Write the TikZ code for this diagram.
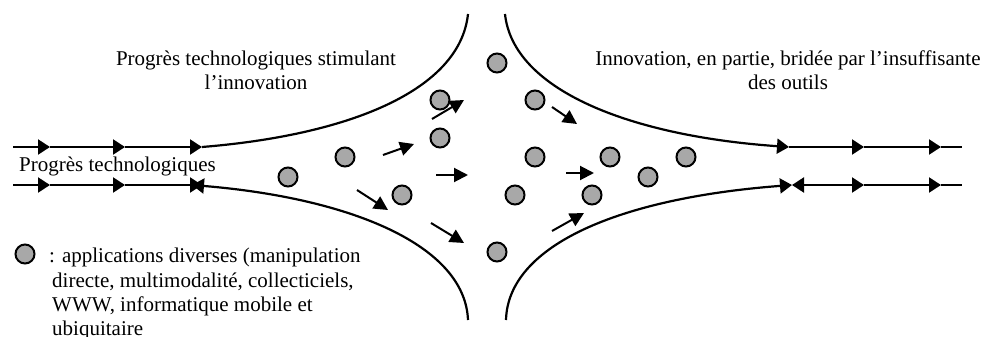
\documentclass[tikz,border=0pt]{standalone}
\usepackage{fontspec}
\setmainfont{Liberation Serif}
\usetikzlibrary{arrows.meta}

\begin{document}
\begin{tikzpicture}[x=1pt,y=-1pt,
    app/.style ={circle, draw, line width=2pt, fill=gray!68, minimum size=19pt, inner sep=0pt},
    flow/.style ={line width=2pt, -{Triangle[length=14pt,width=14pt]}},
    bord/.style ={line width=2.2pt},
    wtip/.tip ={Triangle[length=12pt,width=15pt]},
    label/.style ={font=\fontsize{21}{24.3}\selectfont, align=center, inner sep=0pt}]
   \useasboundingbox (0,0) rectangle (983,337);
   \clip (0,0) rectangle (983,337);

   % texts
   \node[label] (T1) at (256,70) {Progrès technologiques stimulant\\l’innovation};
   \node[label] (T2) at (788,70) {Innovation, en partie, bridée par l’insuffisante\\des outils};
   \node[label,anchor=west] (T3) at (19,166) {Progrès technologiques};

   % entering lines
   \coordinate (L0) at (13,147);  \coordinate (L1) at (50,147);
   \coordinate (L2) at (125,147); \coordinate (L3) at (202,147);
   \coordinate (M0) at (13,185);  \coordinate (M1) at (50,185);
   \coordinate (M2) at (125,185); \coordinate (M3) at (202,185);
   \coordinate (M4) at (192,185);
   \draw[bord,-wtip] (L0) -- (L1);
   \draw[bord,-wtip] (L1) -- (L2);
   \draw[bord,-wtip] (L2) -- (L3);
   \draw[bord,-wtip] (M0) -- (M1);
   \draw[bord,-wtip] (M1) -- (M2);
   \draw[bord,-wtip] (M2) -- (M3);

   % leaving lines
   \coordinate (R3) at (789,147); \coordinate (R4) at (864,147);
   \coordinate (R5) at (941,147); \coordinate (R6) at (962,147);
   \coordinate (S3) at (792,185); \coordinate (S4) at (864,185);
   \coordinate (S5) at (941,185); \coordinate (S6) at (962,185);
   \draw[bord,-wtip] (R3) -- (R4);
   \draw[bord,-wtip] (R4) -- (R5);
   \draw[bord] (R5) -- (R6);
   \draw[bord,wtip-wtip] (S3) -- (S4);
   \draw[bord,-wtip] (S4) -- (S5);
   \draw[bord] (S5) -- (S6);

   % funnel
   \coordinate (TL) at (468,14);  \coordinate (BL) at (468,320);
   \coordinate (TR) at (505,14);  \coordinate (BR) at (506,320);
   \draw[bord] (L3) .. controls (350,135) and (460,90) .. (TL);
   \draw[bord,wtip-] (M4) .. controls (350,198) and (465,245) .. (BL);
   \draw[bord,-wtip] (TR) .. controls (513,90) and (630,136) .. (R3);
   \draw[bord,-wtip] (BR) .. controls (508,245) and (620,198) .. (S3);

   % applications
   \node[app] (A1)  at (497,63)  {};
   \node[app] (A2)  at (440,100) {};
   \node[app] (A3)  at (535,100) {};
   \node[app] (A4)  at (440,138) {};
   \node[app] (A5)  at (345,157) {};
   \node[app] (A6)  at (288,177) {};
   \node[app] (A7)  at (402,195) {};
   \node[app] (A8)  at (535,157) {};
   \node[app] (A9)  at (515,195) {};
   \node[app] (A10) at (610,157) {};
   \node[app] (A11) at (648,177) {};
   \node[app] (A12) at (686,157) {};
   \node[app] (A13) at (592,195) {};
   \node[app] (A14) at (497,252) {};

   % moves
   \foreach \i/\xa/\ya/\xb/\yb in {1/432/119/464/100, 2/383/155/414/144,
       3/357/190/388/210, 4/436/175/468/175, 5/431/223/464/243,
       6/552/107/577/124, 7/566/173/594/173, 8/552/231/584/213} {
     \coordinate (F\i) at (\xa,\ya);
     \coordinate (G\i) at (\xb,\yb);
     \draw[flow] (F\i) -- (G\i);
   }

   % legend
   \node[app] (K) at (25,254) {};
   \node[label,align=left,anchor=north west] (T4) at (49,248)
     {: applications diverses (manipulation\\
      \hspace*{3pt}directe, multimodalité, collecticiels,\\
      \hspace*{3pt}WWW, informatique mobile et\\
      \hspace*{3pt}ubiquitaire};
 \end{tikzpicture}
\end{document}
